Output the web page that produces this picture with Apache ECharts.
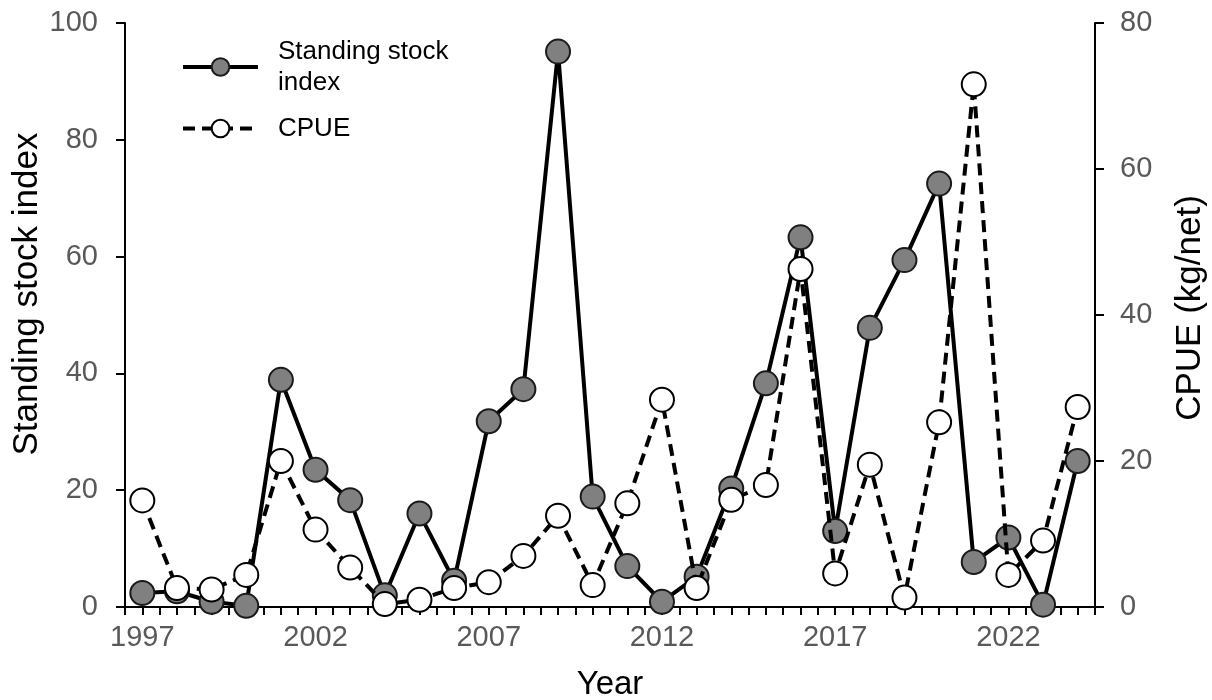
<!DOCTYPE html>
<html>
<head>
<meta charset="utf-8">
<title>Standing stock index and CPUE</title>
<script src="https://cdn.jsdelivr.net/npm/echarts@6/dist/echarts.min.js"></script>
<style>
    html, body { margin: 0; padding: 0; background: #fff; }
    #chart { width: 1212px; height: 700px; }
</style>
</head>
<body>
<div id="chart"></div>
<script>
// values
var years = [1997, 1998, 1999, 2000, 2001, 2002, 2003, 2004, 2005, 2006,
    2007, 2008, 2009, 2010, 2011, 2012, 2013, 2014, 2015, 2016,
    2017, 2018, 2019, 2020, 2021, 2022, 2023, 2024];
var stockIndex = [2.4, 2.7, 0.9, 0.2, 38.9, 23.5, 18.3, 2.0, 16.0, 4.5,
    31.8, 37.3, 95.1, 18.9, 7.0, 0.9, 5.2, 20.3, 38.3, 63.3,
    13.0, 47.8, 59.4, 72.5, 7.7, 11.9, 0.4, 25.0];
var cpue = [14.6, 2.6, 2.4, 4.4, 20.0, 10.6, 5.4, 0.4, 1.0, 2.6,
    3.4, 7.0, 12.5, 3.0, 14.2, 28.4, 2.6, 14.7, 16.7, 46.3,
    4.6, 19.5, 1.3, 25.3, 71.6, 4.4, 9.1, 27.4];
var yearLabels = [1997, 2002, 2007, 2012, 2017, 2022];

var labelFont = 'Liberation Sans, Arial, sans-serif';

function pairs(xs, ys) {
    return xs.map(function (x, i) { return [x, ys[i]]; });
}

var myChart = echarts.init(document.getElementById('chart'));

var option = {
    animation: false,
    backgroundColor: '#fff',
    textStyle: { fontFamily: labelFont },
    grid: {
        left: 125, right: 117, top: 23, bottom: 93,
        containLabel: false,
        outerBoundsMode: 'none'
    },
    legend: {
        orient: 'vertical',
        left: 181,
        top: 36,
        padding: 0,
        itemGap: 15,
        itemWidth: 75,
        itemHeight: 22,
        lineStyle: { width: 4 },
        data: ['Standing stock index', 'CPUE'],
        formatter: function (name) {
            return name === 'Standing stock index' ? 'Standing stock\nindex' : name;
        },
        textStyle: {
            fontSize: 26,
            lineHeight: 31,
            color: '#000',
            padding: [0, 0, 0, 15]
        }
    },
    xAxis: {
        type: 'value',
        min: 1996.5,
        max: 2024.5,
        interval: 0.5,
        name: 'Year',
        nameLocation: 'middle',
        nameGap: 61,
        nameMoveOverlap: false,
        nameTextStyle: { fontSize: 33, color: '#000' },
        splitLine: { show: false },
        axisLine: { lineStyle: { color: '#000', width: 2 } },
        axisTick: { length: 8, lineStyle: { color: '#000', width: 2 } },
        axisLabel: {
            fontSize: 29,
            color: '#595959',
            margin: 16,
            formatter: function (v) {
                return yearLabels.indexOf(v) >= 0 ? String(v) : '';
            }
        }
    },
    yAxis: [{
        type: 'value',
        min: 0,
        max: 100,
        interval: 20,
        name: 'Standing stock index',
        nameLocation: 'middle',
        nameGap: 80,
        nameMoveOverlap: false,
        nameTextStyle: { fontSize: 35, color: '#000', padding: [0, 0, 0, 42] },
        splitLine: { show: false },
        axisLine: { show: true, lineStyle: { color: '#000', width: 2 } },
        axisTick: { show: true, length: 9, lineStyle: { color: '#000', width: 2 } },
        axisLabel: { fontSize: 29, color: '#595959', margin: 27 }
    }, {
        type: 'value',
        position: 'right',
        min: 0,
        max: 80,
        interval: 20,
        name: 'CPUE (kg/net)',
        nameLocation: 'middle',
        nameGap: 78,
        nameMoveOverlap: false,
        nameTextStyle: { fontSize: 35, color: '#000', padding: [0, 0, 0, 14] },
        splitLine: { show: false },
        axisLine: { show: true, lineStyle: { color: '#000', width: 2 } },
        axisTick: { show: true, length: 9, lineStyle: { color: '#000', width: 2 } },
        axisLabel: { fontSize: 29, color: '#595959', margin: 25 }
    }],
    series: [{
        name: 'Standing stock index',
        type: 'line',
        yAxisIndex: 0,
        data: pairs(years, stockIndex),
        symbol: 'circle',
        symbolSize: 24,
        lineStyle: { color: '#000', width: 4 },
        itemStyle: { color: '#808080', borderColor: '#1a1a1a', borderWidth: 2 },
        z: 2
    }, {
        name: 'CPUE',
        type: 'line',
        yAxisIndex: 1,
        data: pairs(years, cpue),
        symbol: 'circle',
        symbolSize: 24,
        lineStyle: { color: '#000', width: 4, type: [12, 7] },
        itemStyle: { color: '#fff', borderColor: '#000', borderWidth: 2 },
        z: 3
    }]
};

myChart.setOption(option);
</script>
</body>
</html>
